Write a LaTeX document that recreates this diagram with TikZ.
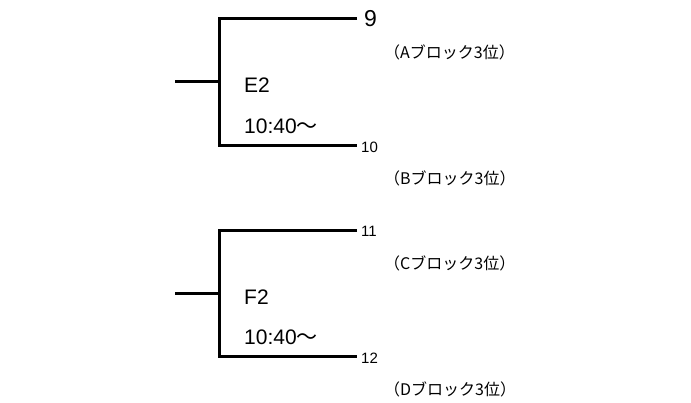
\documentclass[tikz,border=0pt]{standalone}
\usepackage{fontspec}
\setmainfont{Liberation Sans}
\newfontfamily\jpfont{Noto Sans CJK JP}
\begin{document}
\begin{tikzpicture}[x=1pt,y=1pt,
  bline/.style={line width=3pt},
  bignum/.style={anchor=west,inner sep=0pt,font=\fontsize{23}{27}\selectfont},
  smallnum/.style={anchor=west,inner sep=0pt,font=\fontsize{15}{17}\selectfont},
  blocklbl/.style={anchor=west,inner sep=0pt,font=\jpfont\fontsize{16}{18}\selectfont},
  matchlbl/.style={anchor=west,inner sep=0pt,font=\fontsize{21}{25}\selectfont}]
\useasboundingbox (0,0) rectangle (691,-403);
% top bracket
\coordinate (t1) at (357,-19);
\coordinate (t2) at (357,-146);
\coordinate (tv) at (219,-82);
\coordinate (ts) at (175,-82);
\draw[bline] (t1) -| (tv) |- (t2);
\draw[bline] (ts) -- (tv);
\node[bignum] (n9) at (364,-19) {9};
\node[smallnum] (n10) at (361,-147) {10};
\node[blocklbl] (bA) at (384,-52) {（Aブロック3位）};
\node[blocklbl] (bB) at (384,-178) {（Bブロック3位）};
\node[matchlbl] (e2) at (244,-85) {E2};
\node[matchlbl] (e2t) at (244,-126) {10:40{\jpfont ～}};
% bottom bracket
\coordinate (b1) at (357,-231);
\coordinate (b2) at (357,-357);
\coordinate (bv) at (219,-294);
\coordinate (bs) at (175,-294);
\draw[bline] (b1) -| (bv) |- (b2);
\draw[bline] (bs) -- (bv);
\node[smallnum] (n11) at (361,-231) {11};
\node[smallnum] (n12) at (361,-358) {12};
\node[blocklbl] (bC) at (384,-263) {（Cブロック3位）};
\node[blocklbl] (bD) at (384,-389) {（Dブロック3位）};
\node[matchlbl] (f2) at (244,-297) {F2};
\node[matchlbl] (f2t) at (244,-337) {10:40{\jpfont ～}};
\end{tikzpicture}
\end{document}
